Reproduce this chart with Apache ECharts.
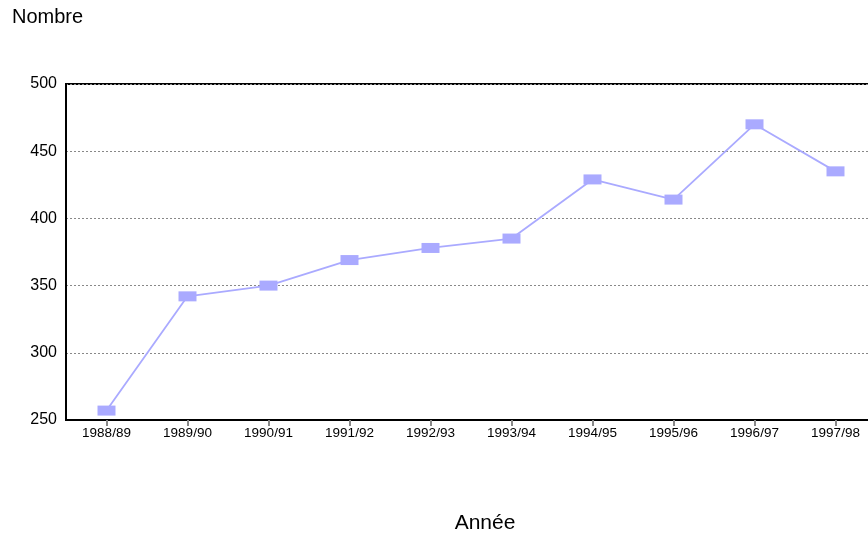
<!DOCTYPE html>
<html>
<head>
<meta charset="utf-8">
<script src="https://cdn.jsdelivr.net/npm/echarts@6/dist/echarts.min.js"></script>
<style>
html,body{margin:0;padding:0;background:#fff;}
#chart{width:868px;height:533px;}
</style>
</head>
<body>
<div id="chart"></div>
<script>
var categories = ['1988/89','1989/90','1990/91','1991/92','1992/93','1993/94','1994/95','1995/96','1996/97','1997/98'];
var values = [257, 342, 350, 369, 378, 385, 429, 414, 470, 435];
var yTicks = [250, 300, 350, 400, 450, 500];

var FONT = 'Liberation Sans, Arial, sans-serif';
var chart = echarts.init(document.getElementById('chart'));
chart.setOption({
  animation: false,
  backgroundColor: '#ffffff',
  textStyle: {fontFamily: FONT},
  grid: {left: 66, width: 810, top: 84, height: 336, containLabel: false, outerBoundsMode: 'none',
         show: true, borderColor: '#000', borderWidth: 2, backgroundColor: 'transparent'},
  title: [
    {text: 'Nombre', left: 12, top: 7, padding: 0, textStyle: {fontSize: 20, fontWeight: 'normal', color: '#000', fontFamily: FONT}},
    {text: 'Année', left: 485, top: 513, padding: 0, textAlign: 'center', textStyle: {fontSize: 21, fontWeight: 'normal', color: '#000', fontFamily: FONT}}
  ],
  xAxis: {
    type: 'category',
    data: categories,
    boundaryGap: true,
    axisLine: {show: true, lineStyle: {color: '#000', width: 2}},
    axisTick: {show: true, alignWithLabel: true, interval: 0, length: 6, lineStyle: {color: '#888', width: 2}},
    axisLabel: {color: '#000', fontSize: 13.5, margin: 6, interval: 0},
    splitLine: {show: false}
  },
  yAxis: {
    type: 'value',
    min: yTicks[0],
    max: yTicks[yTicks.length - 1],
    interval: 50,
    axisLine: {show: true, lineStyle: {color: '#000', width: 2}},
    axisTick: {show: false},
    axisLabel: {color: '#000', fontSize: 16, margin: 9},
    splitLine: {show: true, lineStyle: {color: '#888', type: [2, 2], width: 1}}
  },
  series: [{
    type: 'line',
    data: values,
    symbol: 'rect',
    symbolSize: [18, 10],
    itemStyle: {color: '#aaaaff'},
    lineStyle: {color: '#aaaaff', width: 1.8}
  }]
});
</script>
</body>
</html>
